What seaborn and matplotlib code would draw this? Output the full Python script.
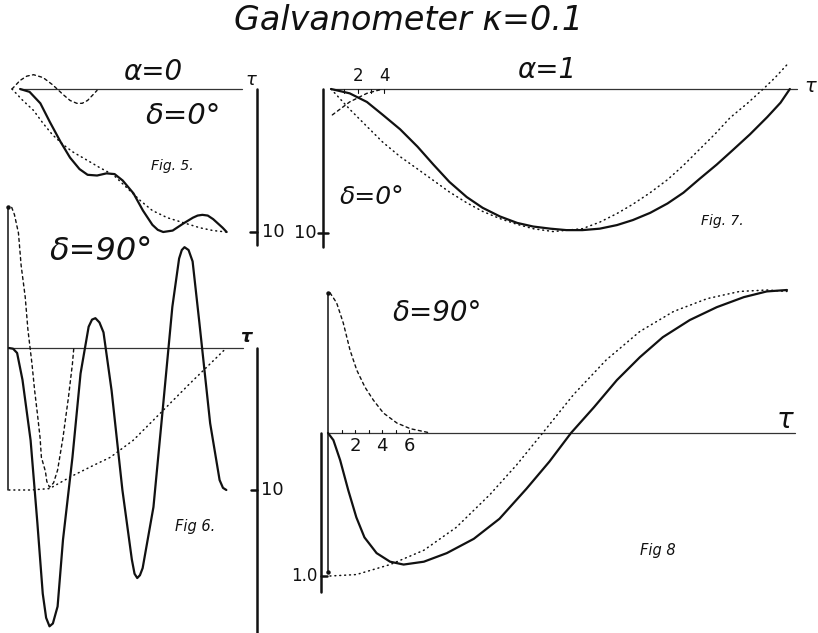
import matplotlib
matplotlib.use("Agg")
import matplotlib.pyplot as plt
import seaborn as sns

sns.set_style("white")
plt.rcParams["font.family"] = ["DejaVu Sans"]

W, H = 818, 633

# ---- Fig. 5 : alpha = 0, delta = 0 deg (tau, deflection) ----
f5_solid_t = [0.6, 1.3, 2.1, 2.8, 3.6, 4.3, 5.0, 5.6, 6.3, 7.0, 7.6, 8.2, 9.0, 9.7,
              10.4, 10.8, 11.2, 11.9, 12.7, 13.4, 13.75, 14.1, 14.5, 14.9, 15.6, 15.9]
f5_solid_y = [0.0, 0.2, 1.0, 2.3, 3.7, 4.8, 5.6, 6.0, 6.05, 5.9, 5.95, 6.4, 7.3, 8.5,
              9.5, 9.85, 10.0, 9.9, 9.4, 9.0, 8.85, 8.8, 8.85, 9.1, 9.7, 10.0]
f5_dot_t = [0.0, 0.8, 1.6, 2.3, 3.0, 3.8, 4.5, 5.6, 6.5, 7.5, 8.5, 9.5, 10.4, 11.5,
            12.7, 13.9, 14.9, 15.9]
f5_dot_y = [0.0, 0.8, 1.5, 2.4, 3.2, 3.9, 4.4, 5.0, 5.5, 6.0, 6.9, 7.8, 8.5, 9.0,
            9.35, 9.7, 9.9, 10.0]
f5_dash_t = [0.0, 0.6, 1.1, 1.6, 2.3, 3.0, 3.8, 4.3, 4.8, 5.2, 5.6, 6.3]
f5_dash_y = [0.0, -0.6, -0.9, -1.0, -0.8, -0.3, 0.4, 0.8, 1.0, 1.0, 0.8, 0.1]

# ---- Fig. 6 : alpha = 0, delta = 90 deg ----
f6_solid_t = [0.0, 0.3, 0.6, 1.0, 1.6, 2.1, 2.5, 2.75, 3.0, 3.25, 3.6, 4.0, 4.7, 5.3,
              5.9, 6.15, 6.4, 6.7, 7.0, 7.6, 8.4, 9.1, 9.3, 9.5, 9.7, 9.9, 10.7,
              11.4, 12.1, 12.6, 12.8, 13.0, 13.3, 13.6, 14.1, 14.9, 15.6, 15.85, 16.1]
f6_solid_y = [0.0, 0.05, 0.35, 2.25, 6.5, 12.3, 17.3, 19.0, 19.6, 19.4, 18.2, 13.5,
              7.7, 1.8, -1.5, -2.0, -2.1, -1.8, -1.1, 3.0, 10.0, 14.9, 15.9, 16.2,
              16.0, 15.5, 11.2, 4.2, -2.9, -6.3, -6.9, -7.1, -6.9, -6.1, -1.8, 5.3,
              9.3, 9.85, 10.0]
f6_dash_t = [0.2, 0.4, 0.7, 0.9, 1.2, 1.4, 1.7, 1.9, 2.1, 2.3, 2.4, 2.7, 2.8, 3.0,
             3.3, 3.6, 4.0, 4.4, 4.7, 4.8]
f6_dash_y = [-9.9, -9.4, -8.1, -5.8, -3.6, -1.3, 1.1, 3.0, 4.6, 6.3, 7.7, 8.7, 9.4,
             9.8, 9.5, 8.6, 6.3, 3.5, 1.1, 0.0]
f6_dot_t = [0.0, 1.6, 3.0, 4.7, 6.4, 7.5, 9.2, 11.2, 13.4, 14.7, 16.1]
f6_dot_y = [10.0, 10.0, 9.9, 9.0, 8.2, 7.7, 6.5, 4.6, 2.5, 1.3, 0.0]

# ---- Fig. 7 : alpha = 1, delta = 0 deg ----
f7_solid_t = [0.0, 1.4, 2.7, 3.9, 5.2, 6.5, 7.7, 8.9, 10.2, 11.4, 12.7, 14.0, 15.2,
              16.5, 17.7, 18.9, 20.2, 21.5, 22.7, 24.0, 25.3, 26.5, 27.7, 29.0,
              30.2, 31.5, 32.8, 33.8, 34.5]
f7_solid_y = [0.0, 0.3, 0.9, 1.8, 2.8, 4.0, 5.25, 6.45, 7.5, 8.25, 8.85, 9.3, 9.55,
              9.7, 9.8, 9.8, 9.7, 9.45, 9.1, 8.6, 7.95, 7.2, 6.25, 5.25, 4.25, 3.15,
              1.95, 0.95, 0.0]
f7_dot_t = [0.0, 1.4, 2.7, 3.9, 5.2, 6.5, 7.7, 8.9, 10.2, 11.4, 12.7, 14.0, 15.2,
            16.7, 18.9, 20.2, 21.5, 22.7, 24.0, 25.3, 26.5, 27.7, 28.9, 30.0, 31.3,
            32.5, 33.4, 34.4]
f7_dot_y = [0.0, 1.4, 2.6, 3.7, 4.7, 5.55, 6.35, 7.15, 7.9, 8.5, 9.0, 9.4, 9.7, 9.9,
            9.7, 9.25, 8.65, 8.0, 7.2, 6.3, 5.3, 4.2, 3.1, 2.0, 1.0, 0.0, -0.8, -1.8]
f7_dash_t = [0.1, 1.4, 2.7, 3.9]
f7_dash_y = [1.8, 0.9, 0.3, 0.0]
f7_ticks = [1, 2, 3, 4]
f7_tick_labels = {2: "2", 4: "4"}

# ---- Fig. 8 : alpha = 1, delta = 90 deg ----
f8_solid_t = [0.0, 0.4, 0.9, 1.5, 2.1, 2.7, 3.6, 4.6, 5.6, 7.1, 8.8, 10.8, 12.7,
              14.7, 16.4, 18.0, 19.7, 21.4, 23.1, 24.8, 26.8, 28.8, 30.8, 32.5, 34.0]
f8_solid_y = [0.0, 0.05, 0.19, 0.40, 0.59, 0.73, 0.84, 0.90, 0.92, 0.90, 0.84,
              0.74, 0.60, 0.39, 0.20, 0.0, -0.18, -0.37, -0.53, -0.67, -0.79,
              -0.88, -0.95, -0.99, -1.0]
f8_dot_t = [0.15, 2.1, 4.6, 7.1, 9.5, 12.0, 14.0, 15.9, 18.2, 20.6, 23.1, 25.6,
            28.1, 30.5, 32.5, 34.0]
f8_dot_y = [1.0, 0.99, 0.92, 0.82, 0.66, 0.43, 0.22, 0.0, -0.27, -0.51, -0.71,
            -0.85, -0.94, -0.99, -1.0, -0.99]
f8_dash_t = [0.15, 0.64, 1.13, 1.63, 2.13, 2.74, 3.36, 4.1, 5.1, 6.1, 7.6]
f8_dash_y = [-0.98, -0.91, -0.77, -0.58, -0.44, -0.32, -0.23, -0.14, -0.07,
             -0.03, 0.0]
f8_ticks = [1, 2, 3, 4, 5, 6]
f8_tick_labels = {2: "2", 4: "4", 6: "6"}

fig = plt.figure(figsize=(W / 100, H / 100), dpi=100)
fig.patch.set_facecolor("white")

INK = "#111111"
SOLID = dict(color=INK, linewidth=1.6, solid_joinstyle="round", solid_capstyle="round")
DOTTED = dict(color=INK, linewidth=1.1, linestyle=(0, (0.6, 2.6)), dash_capstyle="round")
DASHED = dict(color=INK, linewidth=1.0, linestyle=(0, (2.2, 2.4)), dash_capstyle="round")
AXLINE = dict(color="#333333", linewidth=0.9)
BAR = dict(color=INK, linewidth=1.8)

HAND = dict(fontfamily="DejaVu Sans", fontstyle="italic", color=INK)
NUM = dict(fontfamily="DejaVu Sans", color=INK)

panels = []


def panel(rect, origin, scale):
    """Axes whose data units (tau, deflection) map onto a region of the sheet."""
    l, t, r, b = rect
    ax = fig.add_axes([l / W, 1 - b / H, (r - l) / W, (b - t) / H])
    x0, y0 = origin
    sx, sy = scale
    lims = ((l - x0) / sx, (r - x0) / sx), ((b - y0) / sy, (t - y0) / sy)
    ax.set_facecolor("none")
    panels.append((ax, lims))
    return ax


def curve(ax, t, y, style):
    sns.lineplot(x=t, y=y, ax=ax, sort=False, estimator=None, clip_on=False, **style)


def hline(ax, x_a, x_b, y, style):
    ax.plot([x_a, x_b], [y, y], clip_on=False, **style)


def vline(ax, x, y_a, y_b, style):
    ax.plot([x, x], [y_a, y_b], clip_on=False, **style)


# Fig. 5
ax5 = panel((0, 50, 290, 255), (12, 89), (13.5, 14.3))
hline(ax5, 0.6, 17.0, 0, AXLINE)
curve(ax5, f5_dot_t, f5_dot_y, DOTTED)
curve(ax5, f5_dash_t, f5_dash_y, DASHED)
curve(ax5, f5_solid_t, f5_solid_y, SOLID)
vline(ax5, 18.15, 0, 10.9, BAR)
hline(ax5, 17.6, 18.15, 10, BAR)
ax5.text(18.5, 10, "10", fontsize=13, va="center", ha="left", **NUM)
ax5.text(17.3, -0.6, "τ", fontsize=13, va="center", ha="left", **HAND)
ax5.text(10.4, -1.2, "α=0", fontsize=20, va="center", ha="center", **HAND)
ax5.text(12.7, 1.9, "δ=0°", fontsize=21, va="center", ha="center", **HAND)
ax5.text(11.9, 5.4, "Fig. 5.", fontsize=10, va="center", ha="center", **HAND)

# Fig. 6
ax6 = panel((0, 195, 290, 633), (9, 348), (13.5, 14.2))
hline(ax6, 0.0, 17.3, 0, AXLINE)
vline(ax6, -0.07, -9.9, 10.0, dict(color=INK, linewidth=1.1))
ax6.plot([-0.07], [-9.9], "o", color=INK, markersize=2.2)
curve(ax6, f6_dot_t, f6_dot_y, DOTTED)
curve(ax6, f6_dash_t, f6_dash_y, DASHED)
curve(ax6, f6_solid_t, f6_solid_y, SOLID)
vline(ax6, 18.4, 0, 20.1, BAR)
hline(ax6, 17.9, 18.4, 10, BAR)
ax6.text(18.7, 10, "10", fontsize=13, va="center", ha="left", **NUM)
ax6.text(17.1, -0.75, "τ", fontsize=13, va="center", ha="left", fontweight="bold",
         **HAND)
ax6.text(6.8, -6.8, "δ=90°", fontsize=23, va="center", ha="center", **HAND)
ax6.text(13.8, 12.6, "Fig 6.", fontsize=10.5, va="center", ha="center", **HAND)

# Fig. 7
ax7 = panel((290, 45, 818, 255), (331, 89), (13.3, 14.4))
hline(ax7, 0.0, 35.0, 0, AXLINE)
for tk in f7_ticks:
    vline(ax7, tk, 0, 0.3, dict(color=INK, linewidth=0.8))
for tk, lab in f7_tick_labels.items():
    ax7.text(tk, -0.25, lab, fontsize=12, va="bottom", ha="center", **NUM)
curve(ax7, f7_dot_t, f7_dot_y, DOTTED)
curve(ax7, f7_dash_t, f7_dash_y, DASHED)
curve(ax7, f7_solid_t, f7_solid_y, SOLID)
vline(ax7, -0.6, 0, 11.0, BAR)
hline(ax7, -0.95, -0.2, 10, BAR)
ax7.text(-1.05, 10, "10", fontsize=13, va="center", ha="right", **NUM)
ax7.text(35.6, -0.15, "τ", fontsize=14, va="center", ha="left", **HAND)
ax7.text(16.2, -1.35, "α=1", fontsize=20, va="center", ha="center", **HAND)
ax7.text(3.1, 7.5, "δ=0°", fontsize=18, va="center", ha="center", **HAND)
ax7.text(29.4, 9.2, "Fig. 7.", fontsize=10, va="center", ha="center", **HAND)

# Fig. 8
ax8 = panel((290, 260, 818, 633), (328, 433), (13.5, 143))
hline(ax8, 0.0, 34.6, 0, AXLINE)
for tk in f8_ticks:
    vline(ax8, tk, 0, -0.02, dict(color=INK, linewidth=0.8))
for tk, lab in f8_tick_labels.items():
    ax8.text(tk, 0.03, lab, fontsize=13, va="top", ha="center", **NUM)
vline(ax8, 0.0, -0.98, 0.97, dict(color=INK, linewidth=1.1))
ax8.plot([0.0, 0.0], [-0.98, 0.97], "o", color=INK, markersize=2.2, clip_on=False)
curve(ax8, f8_dot_t, f8_dot_y, DOTTED)
curve(ax8, f8_dash_t, f8_dash_y, DASHED)
curve(ax8, f8_solid_t, f8_solid_y, SOLID)
vline(ax8, -0.52, 0, 1.11, BAR)
hline(ax8, -0.52, -0.1, 1.0, BAR)
ax8.text(-0.75, 1.0, "1.0", fontsize=12, va="center", ha="right", **NUM)
ax8.text(33.2, -0.09, "τ", fontsize=20, va="center", ha="left", **HAND)
ax8.text(8.1, -0.84, "δ=90°", fontsize=20, va="center", ha="center", **HAND)
ax8.text(24.4, 0.82, "Fig 8", fontsize=10.5, va="center", ha="center", **HAND)

for ax, (xl, yl) in panels:
    ax.set_xlim(*xl)
    ax.set_ylim(*yl)
    ax.set_xlabel("")
    ax.set_ylabel("")
    ax.axis("off")

fig.text(409 / W, 1 - 21 / H, "Galvanometer κ=0.1", fontsize=24, ha="center",
         va="center", fontstyle="italic", color=INK)

fig.savefig("out.png", dpi=100, facecolor="white")
